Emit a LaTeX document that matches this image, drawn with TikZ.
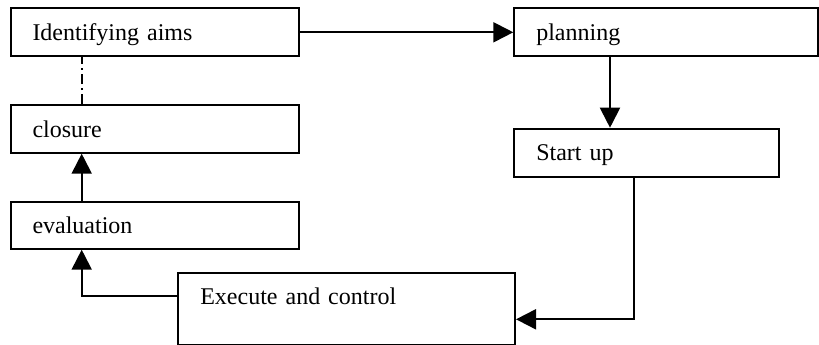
\documentclass[tikz,border=0pt]{standalone}
\usepackage{fontspec}
\setmainfont{Liberation Serif}
\usetikzlibrary{arrows.meta}
\begin{document}
\begin{tikzpicture}[x=1pt,y=-1pt,
  stagebox/.style={draw, line width=2pt, anchor=north west, inner ysep=0pt, inner xsep=22pt,
     align=left, font=\fontsize{24}{28}\selectfont, text height=32pt},
  link/.style={line width=2pt, -{Triangle[length=20pt,width=20pt]}},
  plainlink/.style={line width=2pt}]
\useasboundingbox (0,0) rectangle (819,345);
\node[stagebox, text width=244pt, text depth=15.7pt] (aims) at (9.5,7.3) {Identifying aims};
\node[stagebox, text width=259.7pt, text depth=15.7pt] (plan) at (513.3,7.3) {planning};
\node[stagebox, text width=244pt, text depth=15.7pt] (closure) at (9.5,104) {closure};
\node[stagebox, text width=221pt, text depth=16.3pt] (start) at (513.3,127.7) {Start up};
\node[stagebox, text width=244.5pt, text depth=15pt] (eval) at (9.5,200.7) {evaluation};
\node[stagebox, text width=292.7pt, text depth=40.3pt] (exec) at (177.3,271.7) {Execute and control};
% connectors
\draw[link] (aims.east |- 0,32.3) -- (plan.west |- 0,32.3);
\draw[link] (plan.south -| 610,0) -- (start.north -| 610,0);
\coordinate (sdown) at (634.3,319.3);
\draw[link] (start.south -| sdown) |- (exec.east |- sdown);
\coordinate (eturn) at (81.7,295.7);
\draw[link] (exec.west |- eturn) -| (eval.south -| eturn);
\draw[link] (eval.north -| eturn) -- (closure.south -| eturn);
\draw[plainlink, dash pattern=on 10pt off 4pt on 2pt off 4pt] (closure.north -| eturn) -- (aims.south -| eturn);
\end{tikzpicture}
\end{document}
